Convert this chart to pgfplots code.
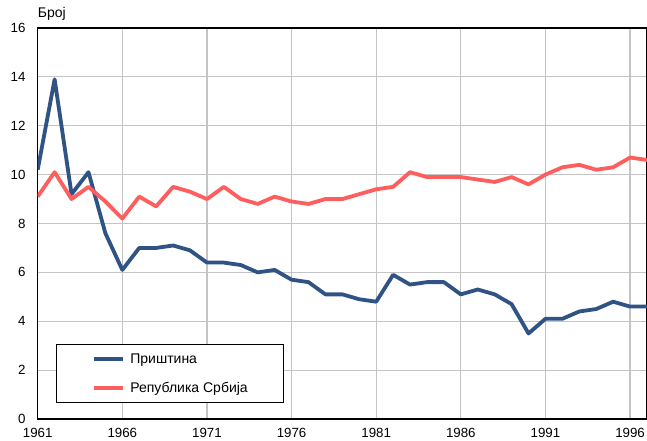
\documentclass[border=0pt]{standalone}
\usepackage{fontspec}
\setmainfont{Liberation Sans}
\usepackage{pgfplots}
\pgfplotsset{compat=1.18}
\definecolor{pblue}{HTML}{2F5384}
\definecolor{pred}{HTML}{FF5E5E}
\definecolor{gridc}{HTML}{C4C4C4}
\pgfplotstableread{
year pr sr
1961 10.2 9.1
1962 13.9 10.1
1963 9.2 9.0
1964 10.1 9.5
1965 7.6 8.9
1966 6.1 8.2
1967 7.0 9.1
1968 7.0 8.7
1969 7.1 9.5
1970 6.9 9.3
1971 6.4 9.0
1972 6.4 9.5
1973 6.3 9.0
1974 6.0 8.8
1975 6.1 9.1
1976 5.7 8.9
1977 5.6 8.8
1978 5.1 9.0
1979 5.1 9.0
1980 4.9 9.2
1981 4.8 9.4
1982 5.9 9.5
1983 5.5 10.1
1984 5.6 9.9
1985 5.6 9.9
1986 5.1 9.9
1987 5.3 9.8
1988 5.1 9.7
1989 4.7 9.9
1990 3.5 9.6
1991 4.1 10.0
1992 4.1 10.3
1993 4.4 10.4
1994 4.5 10.2
1995 4.8 10.3
1996 4.6 10.7
1997 4.6 10.6
}\data
\begin{document}
\begin{tikzpicture}[font=\fontsize{13.3}{15}\selectfont]
\useasboundingbox (0,0) rectangle (647pt,441pt);
\begin{axis}[
  at={(37.7pt,22pt)}, anchor=south west,
  scale only axis, width=609.3pt, height=391pt,
  xmin=1961, xmax=1997, ymin=0, ymax=16,
  xtick={1961,1966,...,1996}, ytick={0,2,...,16},
  /pgf/number format/assume math mode=true,
  /pgf/number format/1000 sep={},
  major tick length=0pt,
  grid=major, grid style={gridc, line width=1.2pt},
  axis line style={black, line width=1.2pt},
  tick label style={font=\fontsize{13.3}{15}\selectfont},
  xticklabel style={anchor=north, inner sep=0pt, yshift=-9pt},
  yticklabel style={anchor=east, inner sep=0pt, xshift=-12pt},
  legend style={at={(0.030,0.041)}, anchor=south west, draw=black, line width=0.8pt,
    inner xsep=36pt, inner ysep=9pt, row sep=17pt,
    nodes={inner sep=0pt},
    /tikz/every odd column/.append style={column sep=5pt},
    font=\fontsize{14}{16}\selectfont},
  legend cell align=left,
  legend image code/.code={\draw[#1, line width=4pt] (0pt,0pt) -- (29pt,0pt);},
]
\addplot[pblue, line width=3.8pt, line join=round] table[x=year, y=pr] {\data};
\addlegendentry{Приштина}
\addplot[pred, line width=3.8pt, line join=round] table[x=year, y=sr] {\data};
\addlegendentry{Република Србија}
\end{axis}
\node[anchor=base west, inner sep=0pt, font=\fontsize{14}{16}\selectfont] at (37.7pt,423pt) {Број};
\end{tikzpicture}
\end{document}
